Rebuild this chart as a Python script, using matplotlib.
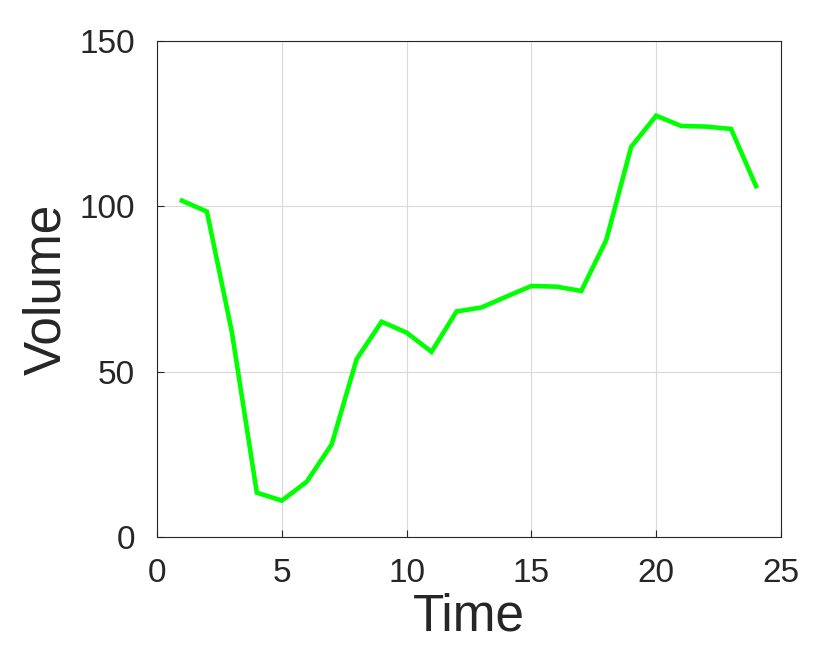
import matplotlib
matplotlib.use("Agg")
import matplotlib.pyplot as plt

# data
time = list(range(1, 25))
volume = [101.7, 98.4, 62.0, 13.4, 11.0, 16.7, 28.0, 53.8, 65.1, 61.8, 56.0, 68.2,
          69.4, 72.7, 75.9, 75.7, 74.4, 89.8, 118.0, 127.4, 124.3, 124.1, 123.4, 106.1]
xticks = [0, 5, 10, 15, 20, 25]
yticks = [0, 50, 100, 150]

plt.rcParams["font.family"] = ["Liberation Sans", "DejaVu Sans"]
text_color = "#262626"

fig = plt.figure(figsize=(8.31, 6.64), dpi=100)
ax = fig.add_axes([0.1889, 0.1913, 0.7509, 0.747])

ax.plot(time, volume, color="#00ff00", linewidth=3.3, solid_joinstyle="miter")

ax.set_xlim(0, 25)
ax.set_ylim(0, 150)
ax.set_xticks(xticks)
ax.set_yticks(yticks)
ax.grid(True, color="#d9d9d9", linewidth=0.8)
ax.set_axisbelow(True)

ax.tick_params(direction="in", length=5, width=0.8, colors=text_color,
               labelsize=24, top=False, right=False)
ax.tick_params(axis="x", pad=15)
ax.tick_params(axis="y", pad=16)
for spine in ax.spines.values():
    spine.set_color(text_color)
    spine.set_linewidth(0.8)

ax.set_xlabel("Time", fontsize=37, color=text_color, labelpad=3)
ax.set_ylabel("Volume", fontsize=37, color=text_color, labelpad=6)

fig.savefig("out.png", dpi=100, facecolor="white")
